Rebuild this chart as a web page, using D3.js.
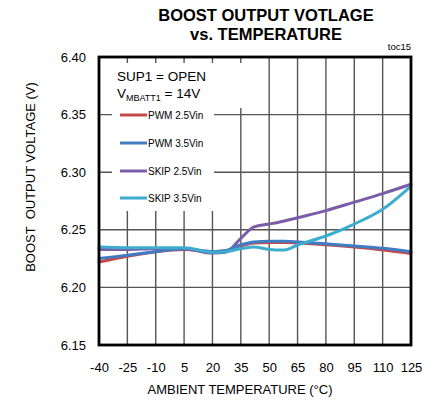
<!DOCTYPE html>
<html><head><meta charset="utf-8">
<script src="https://cdn.jsdelivr.net/npm/d3@7"></script>
<style>body{margin:0;background:#fff} text{font-family:"Liberation Sans",Arial,sans-serif}</style>
</head><body><svg id="c" width="435" height="402"></svg>
<script>
const temps   = [-40, -25, -10, 5, 20, 27, 35, 42, 50, 58, 65, 80, 95, 110, 125];
const pwm25   = [6.222, 6.227, 6.231, 6.233, 6.231, 6.2315, 6.236, 6.2385, 6.239, 6.239, 6.2385, 6.237, 6.235, 6.2325, 6.2295];
const pwm35   = [6.225, 6.228, 6.231, 6.2335, 6.231, 6.232, 6.237, 6.2395, 6.240, 6.240, 6.2395, 6.2378, 6.236, 6.234, 6.231];
const skip25  = [6.233, 6.233, 6.2335, 6.2335, 6.2298, 6.2305, 6.2426, 6.2525, 6.255, 6.2577, 6.2605, 6.2666, 6.274, 6.2814, 6.2895];
const skip35  = [6.235, 6.2345, 6.2345, 6.2345, 6.2305, 6.231, 6.2336, 6.235, 6.233, 6.2325, 6.2368, 6.2446, 6.255, 6.2678, 6.288];
const seriesNames  = ["PWM 2.5Vin", "PWM 3.5Vin", "SKIP 2.5Vin", "SKIP 3.5Vin"];
const seriesColors = ["#c8484a", "#3f7cc2", "#7b5ca8", "#3dadcf"];
const xTicks = [-40, -25, -10, 5, 20, 35, 50, 65, 80, 95, 110, 125];
const yTicks = [6.15, 6.20, 6.25, 6.30, 6.35, 6.40];

const svg = d3.select("#c");
const L = 99, R = 411, T = 57, B = 345;
const x = d3.scaleLinear().domain([-40, 125]).range([L, R]);
const y = d3.scaleLinear().domain([6.15, 6.40]).range([B, T]);

// grid
const grid = svg.append("g").attr("stroke", "#555").attr("stroke-width", 1.4);
grid.selectAll("line.v").data(xTicks.slice(1, -1)).join("line")
  .attr("x1", d => x(d)).attr("x2", d => x(d)).attr("y1", T).attr("y2", B);
grid.selectAll("line.h").data(yTicks.slice(1, -1)).join("line")
  .attr("x1", L).attr("x2", R).attr("y1", d => y(d)).attr("y2", d => y(d));

// white boxes for annotation and legend
svg.append("rect").attr("x", 112).attr("y", 63).attr("width", 144).attr("height", 45).attr("fill", "#fff");
svg.append("rect").attr("x", 112).attr("y", 63).attr("width", 102).attr("height", 148).attr("fill", "#fff");

// lines
const order = [0, 2, 1, 3];
const data = [pwm25, pwm35, skip25, skip35];
const line = d3.line().x((d, i) => x(temps[i])).y(d => y(d)).curve(d3.curveMonotoneX);
order.forEach(k => {
  svg.append("path").datum(data[k]).attr("d", line)
    .attr("fill", "none").attr("stroke", seriesColors[k]).attr("stroke-width", 3)
    .attr("stroke-linejoin", "round").attr("stroke-linecap", "round");
});

// frame
svg.append("rect").attr("x", L).attr("y", T).attr("width", R - L).attr("height", B - T)
  .attr("fill", "none").attr("stroke", "#000").attr("stroke-width", 2.8);

// axes
const ya = svg.append("g").attr("transform", `translate(${L},0)`)
  .call(d3.axisLeft(y).tickValues(yTicks).tickFormat(d3.format(".2f")).tickSize(0).tickPadding(13));
const xa = svg.append("g").attr("transform", `translate(0,${B})`)
  .call(d3.axisBottom(x).tickValues(xTicks).tickFormat(d => String(d)).tickSize(0).tickPadding(18));
[ya, xa].forEach(a => {
  a.select(".domain").remove();
  a.selectAll("text").attr("font-size", 13).attr("fill", "#000").style("font-family", '"Liberation Sans",Arial,sans-serif');
});

// titles
svg.append("text").attr("x", 266).attr("y", 21).attr("text-anchor", "middle")
  .attr("font-size", 16.5).attr("font-weight", "bold").text("BOOST OUTPUT VOTLAGE");
svg.append("text").attr("x", 266).attr("y", 39.5).attr("text-anchor", "middle")
  .attr("font-size", 16.5).attr("font-weight", "bold").text("vs. TEMPERATURE");
svg.append("text").attr("x", 411).attr("y", 50).attr("text-anchor", "end")
  .attr("font-size", 9.5).text("toc15");
svg.append("text").attr("x", 240).attr("y", 394).attr("text-anchor", "middle")
  .attr("font-size", 13).text("AMBIENT TEMPERATURE (°C)");
svg.append("text").attr("transform", "translate(35,177) rotate(-90)").attr("text-anchor", "middle")
  .attr("font-size", 13).attr("xml:space", "preserve").style("white-space", "pre").text("BOOST  OUTPUT VOLTAGE (V)");

// annotation
svg.append("text").attr("x", 117).attr("y", 81).attr("font-size", 13.5).text("SUP1 = OPEN");
const vt = svg.append("text").attr("x", 117).attr("y", 98).attr("font-size", 13.5);
vt.append("tspan").text("V");
vt.append("tspan").attr("font-size", 9).attr("dy", 3).text("MBATT1");
vt.append("tspan").attr("dy", -3).text(" = 14V");

// legend
const legY = [115, 143, 171, 198];
seriesNames.forEach((n, k) => {
  svg.append("line").attr("x1", 120).attr("x2", 147).attr("y1", legY[k]).attr("y2", legY[k])
    .attr("stroke", seriesColors[k]).attr("stroke-width", 3);
  svg.append("text").attr("x", 148).attr("y", legY[k]).attr("dy", "0.35em")
    .attr("font-size", 10).text(n);
});
</script>
</body></html>
